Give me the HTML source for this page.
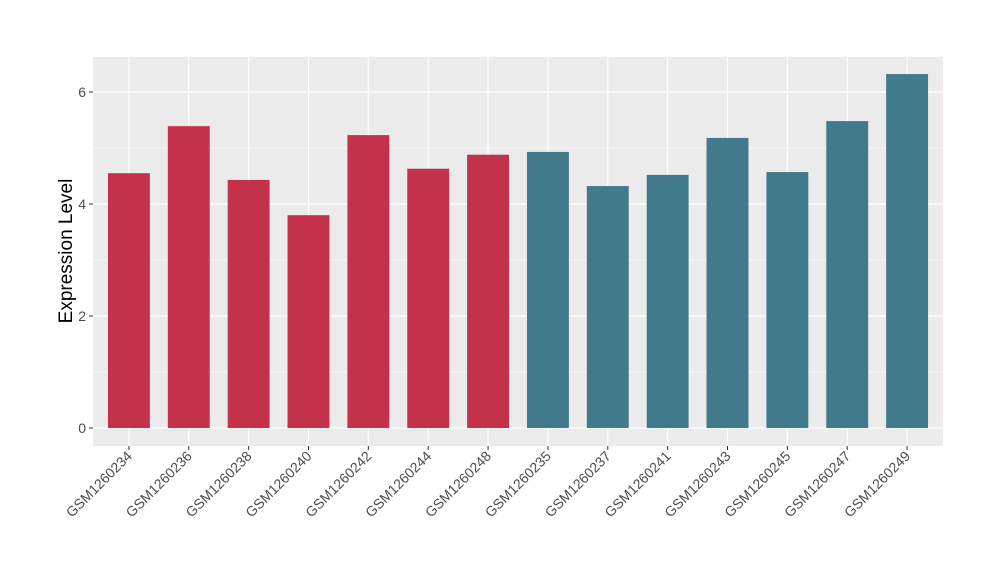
<!DOCTYPE html>
<html><head><meta charset="utf-8"><style>
body{margin:0;background:#fff;font-family:"Liberation Sans",Arial,sans-serif}
</style></head><body>
<svg id="chart" width="1000" height="580" xmlns="http://www.w3.org/2000/svg" font-family="Liberation Sans, Arial, sans-serif">
<rect x="93" y="57" width="850" height="389" fill="#ebebeb"/>
<g id="grid"></g><g id="bars"></g><g id="axes"></g>
<text transform="translate(72,251) rotate(-90)" text-anchor="middle" font-size="19" fill="#000">Expression Level</text>
</svg>
<script>
const categories=["GSM1260234","GSM1260236","GSM1260238","GSM1260240","GSM1260242","GSM1260244","GSM1260248","GSM1260235","GSM1260237","GSM1260241","GSM1260243","GSM1260245","GSM1260247","GSM1260249"];
const values=[4.55,5.39,4.43,3.80,5.23,4.63,4.88,4.93,4.32,4.52,5.18,4.57,5.48,6.32];
const groups=["a","a","a","a","a","a","a","b","b","b","b","b","b","b"];
const yTicks=[0,2,4,6];
const colors={a:"#c3314a",b:"#417a8b"};
const NS="http://www.w3.org/2000/svg";
const L=93,R=943,step=(R-L)/(categories.length+0.2);
const x=i=>L+(0.6+i)*step;
const y=v=>428-v*56;
const bw=step*0.7;
function mk(t,a,p){const e=document.createElementNS(NS,t);for(const k in a)e.setAttribute(k,a[k]);p.appendChild(e);return e;}
const grid=document.getElementById('grid'),bars=document.getElementById('bars'),axes=document.getElementById('axes');
for(let v=-1;v<=7;v+=2){const yy=y(v);if(yy>57&&yy<446){const l=mk('line',{x1:L,x2:R,y1:yy,y2:yy,stroke:'#fff','stroke-width':0.6},grid);}}
yTicks.forEach(v=>{const l=mk('line',{x1:L,x2:R,y1:y(v),y2:y(v),stroke:'#fff','stroke-width':1.2},grid);


const t=mk('line',{x1:L-4,x2:L,y1:y(v),y2:y(v),stroke:'#333','stroke-width':1},axes);


const tx=mk('text',{x:L-7,y:y(v)+5,'text-anchor':'end','font-size':14,fill:'#4d4d4d'},axes);tx.textContent=v;

});
categories.forEach((c,i)=>{const g=mk('line',{x1:x(i),x2:x(i),y1:57,y2:446,stroke:'#fff','stroke-width':1.2},grid);


const b=mk('rect',{x:x(i)-bw/2,y:y(values[i]),width:bw,height:y(0)-y(values[i]),fill:colors[groups[i]]},bars);


const t=mk('line',{x1:x(i),x2:x(i),y1:446,y2:450,stroke:'#333','stroke-width':1},axes);


const tx=mk('text',{transform:`translate(${x(i)+4},${457}) rotate(-45)`,'text-anchor':'end','font-size':14,fill:'#4d4d4d'},axes);tx.textContent=c;

});
</script>
</body></html>
